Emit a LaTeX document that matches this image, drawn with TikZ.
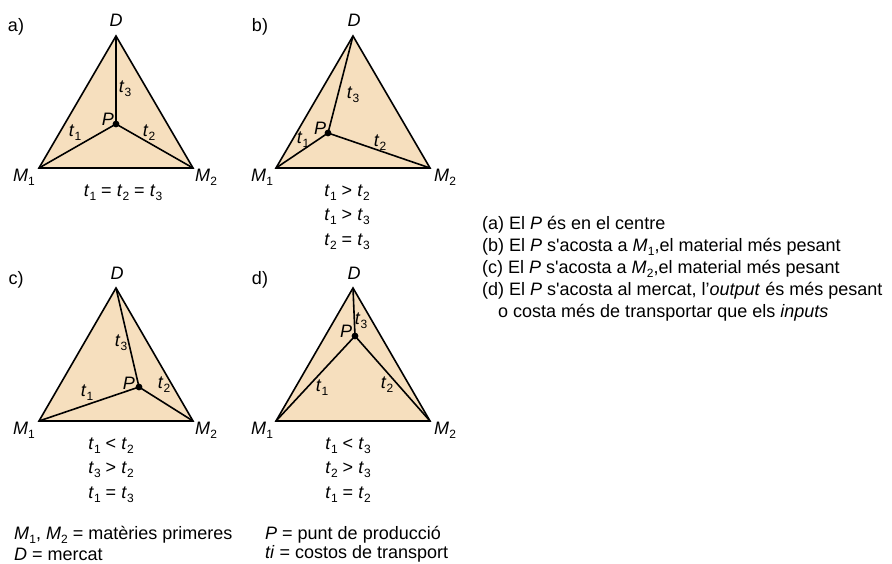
\documentclass[tikz,border=0pt]{standalone}
\usepackage{fontspec}
\setmainfont{Liberation Sans}
\definecolor{tan}{RGB}{246,223,190}
\newcommand{\ix}[2]{\textit{#1}\kern0.01em\raisebox{-0.45ex}{\fontsize{12}{12}\selectfont #2}}
\newcommand{\sq}{\textquotesingle}
\begin{document}
\begin{tikzpicture}[x=1pt,y=-1pt,
  tri/.style={fill=tan,draw=black,line width=1.6pt,line join=miter},
  edge/.style={draw=black,line width=1.6pt},
  lbl/.style={inner sep=0pt,font=\fontsize{18}{21}\selectfont},
  cond/.style={inner sep=0pt,align=center,font=\fontsize{18}{24.5}\selectfont},
  txt/.style={inner sep=0pt,anchor=west,font=\fontsize{18}{21}\selectfont}]
\useasboundingbox (0,0) rectangle (892,564);
% ---------- a ----------
\coordinate (aM1) at (39,168); \coordinate (aM2) at (193,168);
\coordinate (aD) at (116,36); \coordinate (aP) at (116,124);
\filldraw[tri] (aM1) -- (aM2) -- (aD) -- cycle;
\draw[edge] (aP) -- (aM1) (aP) -- (aM2) (aP) -- (aD);
\fill (aP) circle (3.4);
\node[lbl] (alab) at (16,27) {a)};
\node[lbl] (aDl) at (116,20) {\textit{D}};
\node[lbl] (aM1l) at (24,177) {\ix{M}{1}};
\node[lbl] (aM2l) at (206,177) {\ix{M}{2}};
\node[lbl] (aPl) at (108,119) {\textit{P}};
\node[lbl] (at1) at (75,133) {\ix{t}{1}};
\node[lbl] (at2) at (149,133) {\ix{t}{2}};
\node[lbl] (at3) at (125,89) {\ix{t}{3}};
\node[cond] (acond) at (123,193) {\ix{t}{1} = \ix{t}{2} = \ix{t}{3}};
% ---------- b ----------
\coordinate (bM1) at (276,168); \coordinate (bM2) at (430,168);
\coordinate (bD) at (353,36); \coordinate (bP) at (328,133);
\filldraw[tri] (bM1) -- (bM2) -- (bD) -- cycle;
\draw[edge] (bP) -- (bM1) (bP) -- (bM2) (bP) -- (bD);
\fill (bP) circle (3.4);
\node[lbl] (blab) at (260,27) {b)};
\node[lbl] (bDl) at (354,20) {\textit{D}};
\node[lbl] (bM1l) at (262,177) {\ix{M}{1}};
\node[lbl] (bM2l) at (445,177) {\ix{M}{2}};
\node[lbl] (bPl) at (320,128) {\textit{P}};
\node[lbl] (bt1) at (303,140) {\ix{t}{1}};
\node[lbl] (bt2) at (380,143) {\ix{t}{2}};
\node[lbl] (bt3) at (353,95) {\ix{t}{3}};
\node[cond] (bcond) at (347,217) {\ix{t}{1} > \ix{t}{2}\\\ix{t}{1} > \ix{t}{3}\\\ix{t}{2} = \ix{t}{3}};
% ---------- c ----------
\coordinate (cM1) at (39,421); \coordinate (cM2) at (193,421);
\coordinate (cD) at (116,288); \coordinate (cP) at (139,387);
\filldraw[tri] (cM1) -- (cM2) -- (cD) -- cycle;
\draw[edge] (cP) -- (cM1) (cP) -- (cM2) (cP) -- (cD);
\fill (cP) circle (3.4);
\node[lbl] (clab) at (16,280) {c)};
\node[lbl] (cDl) at (117,273) {\textit{D}};
\node[lbl] (cM1l) at (24,430) {\ix{M}{1}};
\node[lbl] (cM2l) at (206,430) {\ix{M}{2}};
\node[lbl] (cPl) at (129,383) {\textit{P}};
\node[lbl] (ct1) at (87,393) {\ix{t}{1}};
\node[lbl] (ct2) at (164,385) {\ix{t}{2}};
\node[lbl] (ct3) at (121,343) {\ix{t}{3}};
\node[cond] (ccond) at (111,470) {\ix{t}{1} < \ix{t}{2}\\\ix{t}{3} > \ix{t}{2}\\\ix{t}{1} = \ix{t}{3}};
% ---------- d ----------
\coordinate (dM1) at (276,421); \coordinate (dM2) at (430,421);
\coordinate (dD) at (353,288); \coordinate (dP) at (355,336);
\filldraw[tri] (dM1) -- (dM2) -- (dD) -- cycle;
\draw[edge] (dP) -- (dM1) (dP) -- (dM2) (dP) -- (dD);
\fill (dP) circle (3.4);
\node[lbl] (dlab) at (260,280) {d)};
\node[lbl] (dDl) at (354,273) {\textit{D}};
\node[lbl] (dM1l) at (262,430) {\ix{M}{1}};
\node[lbl] (dM2l) at (445,430) {\ix{M}{2}};
\node[lbl] (dPl) at (346,331) {\textit{P}};
\node[lbl] (dt1) at (322,388) {\ix{t}{1}};
\node[lbl] (dt2) at (387,385) {\ix{t}{2}};
\node[lbl] (dt3) at (361,321) {\ix{t}{3}};
\node[cond] (dcond) at (348,470) {\ix{t}{1} < \ix{t}{3}\\\ix{t}{2} > \ix{t}{3}\\\ix{t}{1} = \ix{t}{2}};
% ---------- right text ----------
\node[txt] (ra) at (482,225) {(a) El \textit{P} és en el centre};
\node[txt] (rb) at (482,247) {(b) El \textit{P} s\sq acosta a \ix{M}{1},el material més pesant};
\node[txt] (rc) at (482,269) {(c) El \textit{P} s\sq acosta a \ix{M}{2},el material més pesant};
\node[txt] (rd) at (482,291) {(d) El \textit{P} s\sq acosta al mercat, l’\textit{output} és més pesant};
\node[txt] (re) at (498,313) {o costa més de transportar que els \textit{inputs}};
% ---------- legend ----------
\node[txt] (l1) at (14,535) {\ix{M}{1}, \ix{M}{2} = matèries primeres};
\node[txt] (l2) at (14,554) {\textit{D} = mercat};
\node[txt] (l3) at (265,535) {\textit{P} = punt de producció};
\node[txt] (l4) at (265,554) {\textit{ti} = costos de transport};
\end{tikzpicture}
\end{document}
